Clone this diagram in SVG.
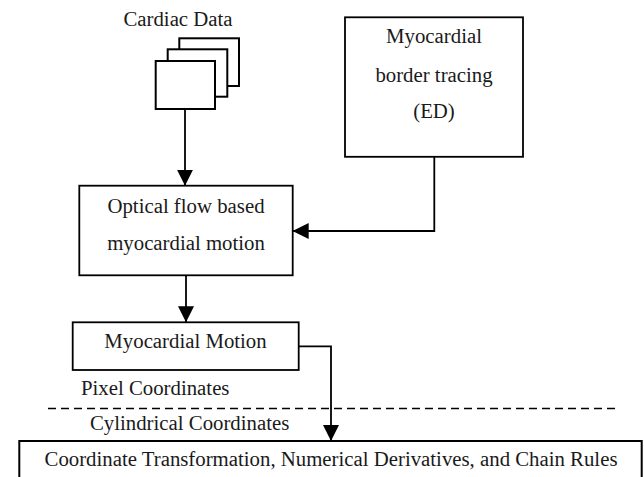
<svg xmlns="http://www.w3.org/2000/svg" width="644" height="477" viewBox="0 0 644 477">
<defs>
<style>
.box{fill:#fff;stroke:#000;stroke-width:1.8}
.page{fill:#fff;stroke:#000;stroke-width:2}
.lbl{font-family:"Liberation Serif","Times New Roman",serif;font-size:20.8px;fill:#1a1a1a}
.c{text-anchor:middle}
.wire{fill:none;stroke:#000;stroke-width:1.8}
.dash{fill:none;stroke:#000;stroke-width:1.6;stroke-dasharray:8 5}
</style>
<marker id="ah" viewBox="0 0 16 16" refX="16" refY="8" markerWidth="16" markerHeight="16" markerUnits="userSpaceOnUse" orient="auto">
<path d="M0,0 L16,8 L0,16 Z" fill="#000"/>
</marker>
</defs>
<rect width="644" height="477" fill="#fff"/>

<g id="cardiac-data">
<text class="lbl c" x="178" y="26">Cardiac Data</text>
<rect class="page" x="179.3" y="38.3" width="59.7" height="47.7"/>
<rect class="page" x="167.7" y="49.3" width="59.6" height="47.4"/>
<rect class="page" x="155.7" y="61" width="59.3" height="48"/>
</g>

<g id="border-tracing">
<rect class="box" x="345" y="17.3" width="178" height="139.5"/>
<text class="lbl c" x="434" y="43">Myocardial</text>
<text class="lbl c" x="434" y="82">border tracing</text>
<text class="lbl c" x="434" y="118">(ED)</text>
</g>

<g id="optical-flow">
<rect class="box" x="79.3" y="185.7" width="213.4" height="89.6"/>
<text class="lbl c" x="186" y="213">Optical flow based</text>
<text class="lbl c" x="186" y="250">myocardial motion</text>
</g>

<g id="myocardial-motion">
<rect class="box" x="72.7" y="322.3" width="226" height="47.7"/>
<text class="lbl c" x="185.5" y="348">Myocardial Motion</text>
</g>

<g id="coord-labels">
<text class="lbl" x="81" y="395">Pixel Coordinates</text>
<text class="lbl" x="90" y="430">Cylindrical Coordinates</text>
</g>

<g id="transformation">
<rect class="box" x="19.3" y="441" width="622.4" height="45" style="stroke-width:2"/>
<text class="lbl c" x="331" y="466">Coordinate Transformation, Numerical Derivatives, and Chain Rules</text>
</g>

<g id="connectors">
<line class="wire" x1="185" y1="109" x2="185" y2="185.7" marker-end="url(#ah)"/>
<polyline class="wire" points="434.3,156.8 434.3,231 292.7,231" marker-end="url(#ah)"/>
<line class="wire" x1="186" y1="275.3" x2="186" y2="322.3" marker-end="url(#ah)"/>
<polyline class="wire" points="298.7,346.3 331,346.3 331,441" marker-end="url(#ah)"/>
<line class="dash" x1="48" y1="408.5" x2="618" y2="408.5"/>
</g>
</svg>
